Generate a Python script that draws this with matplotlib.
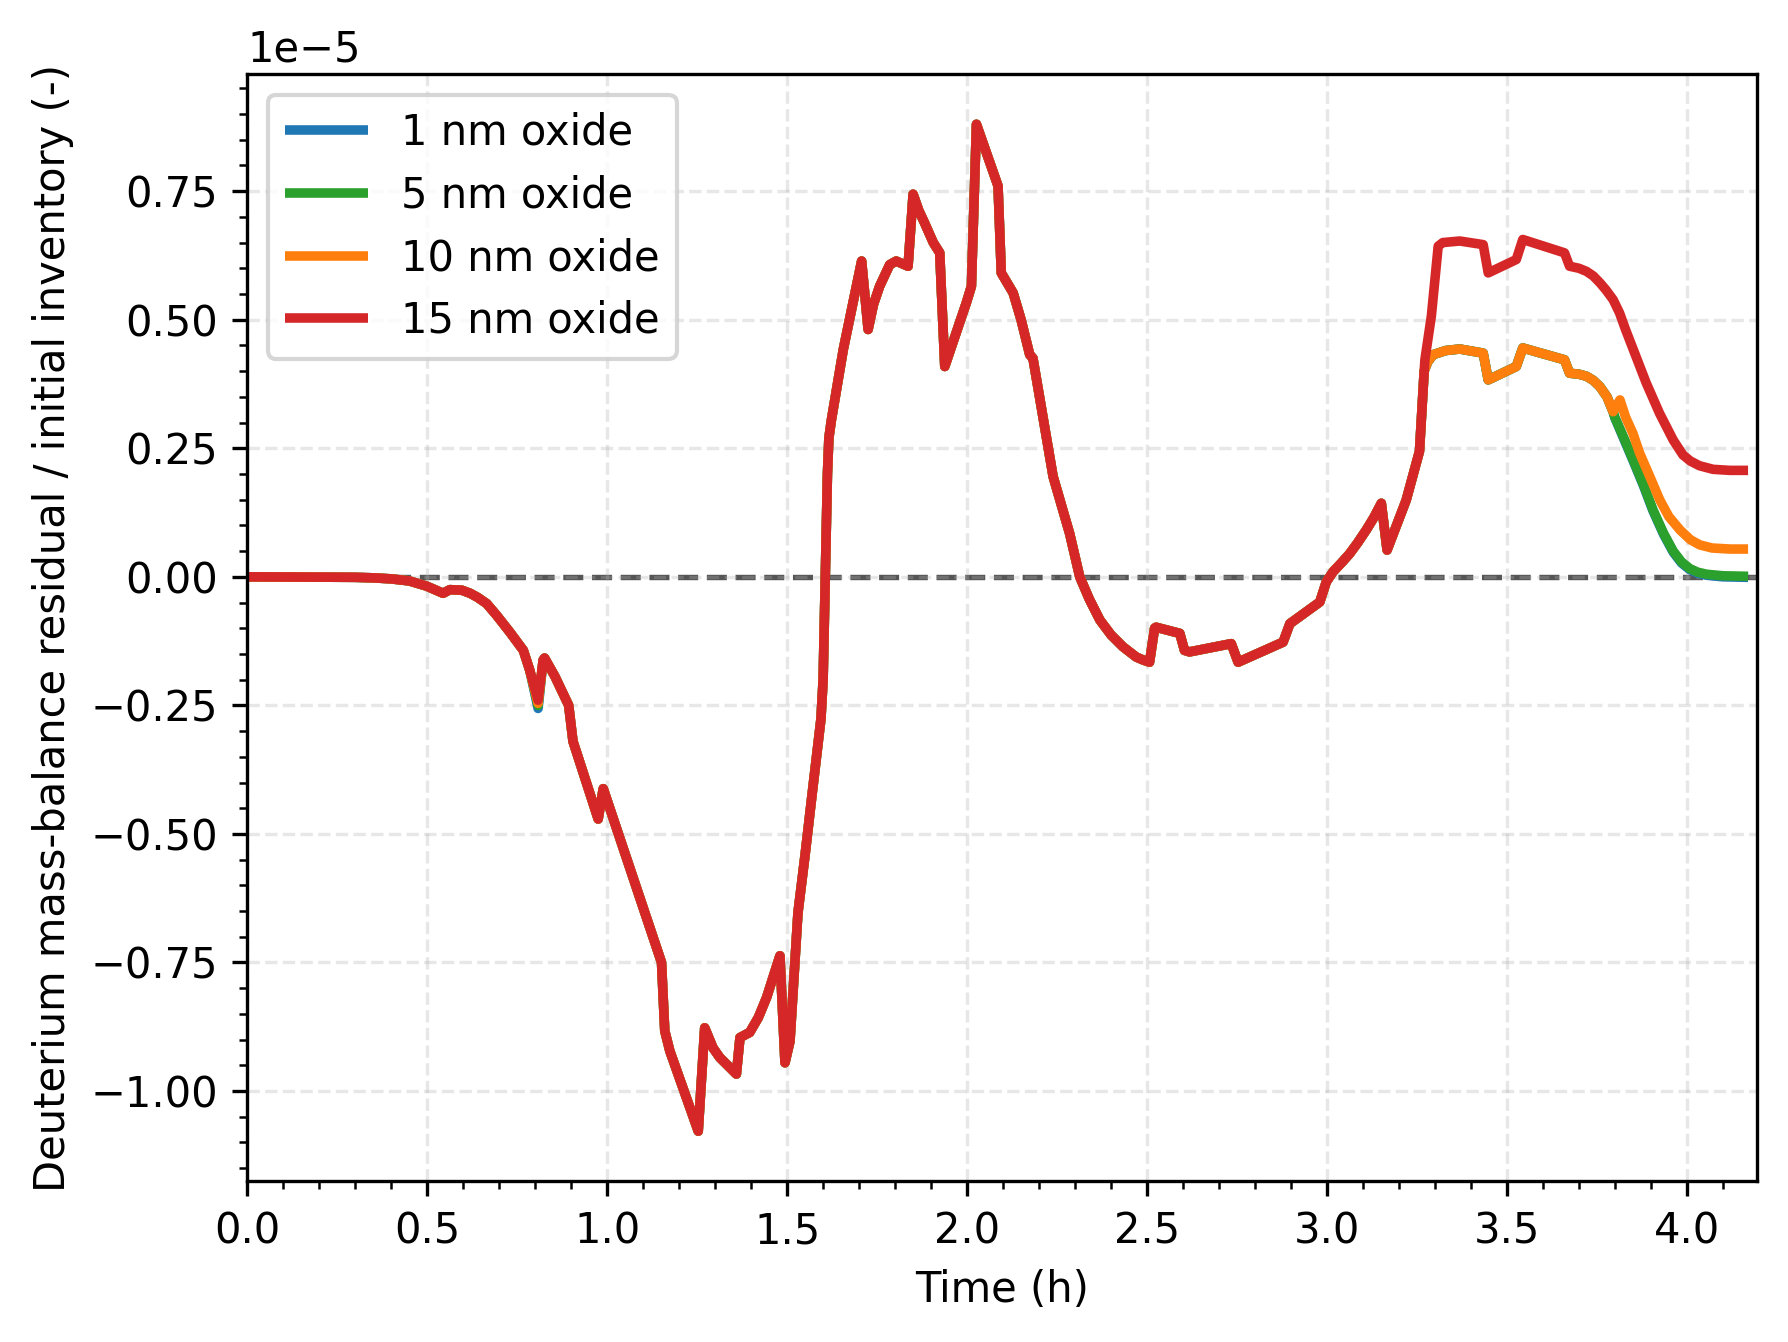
import numpy as np
import matplotlib
matplotlib.use("Agg")
import matplotlib.pyplot as plt

# ---- data (values in units of 1e-5) ----
labels = ["1 nm oxide", "5 nm oxide", "10 nm oxide", "15 nm oxide"]
colors = ["#1f77b4", "#2ca02c", "#ff7f0e", "#d62728"]

# shared part of all curves (time in h)
t_shared = [0.0, 0.30, 0.35, 0.40, 0.45, 0.498, 0.544, 0.563, 0.596, 0.619,
            0.640, 0.665, 0.693, 0.730, 0.767, 0.785, 0.808, 0.822, 0.826, 0.855,
            0.882, 0.893, 0.905, 0.975, 0.989, 1.151, 1.160, 1.174, 1.253, 1.271,
            1.294, 1.313, 1.359, 1.369, 1.396, 1.420, 1.443, 1.480, 1.494, 1.508,
            1.530, 1.550, 1.568, 1.594, 1.600, 1.606, 1.612, 1.616, 1.623, 1.656,
            1.707, 1.725, 1.740, 1.757, 1.785, 1.803, 1.836, 1.850, 1.866, 1.882,
            1.906, 1.924, 1.938, 1.998, 2.012, 2.026, 2.086, 2.095, 2.128, 2.150,
            2.174, 2.183, 2.239, 2.285, 2.313, 2.340, 2.369, 2.400, 2.433, 2.470,
            2.490, 2.507, 2.521, 2.525, 2.591, 2.604, 2.618, 2.734, 2.753, 2.878,
            2.897, 2.980, 2.998, 3.017, 3.040, 3.063, 3.085, 3.109, 3.130, 3.151,
            3.167, 3.220, 3.257]
v_shared = [0.0, -0.001, -0.002, -0.004, -0.008, -0.018, -0.032, -0.025, -0.026, -0.032,
            -0.040, -0.052, -0.075, -0.108, -0.143, -0.182, -0.240, -0.162, -0.158, -0.194,
            -0.234, -0.250, -0.320, -0.471, -0.412, -0.750, -0.883, -0.922, -1.078, -0.877,
            -0.916, -0.935, -0.967, -0.896, -0.886, -0.857, -0.818, -0.737, -0.945, -0.903,
            -0.654, -0.540, -0.431, -0.276, -0.200, 0.0, 0.200, 0.270, 0.305, 0.442,
            0.614, 0.481, 0.530, 0.565, 0.607, 0.614, 0.604, 0.744, 0.712, 0.688,
            0.650, 0.630, 0.409, 0.533, 0.565, 0.880, 0.760, 0.591, 0.552, 0.500,
            0.432, 0.425, 0.195, 0.084, 0.0, -0.044, -0.084, -0.113, -0.136, -0.156,
            -0.162, -0.166, -0.100, -0.098, -0.110, -0.143, -0.146, -0.130, -0.166, -0.127,
            -0.091, -0.049, -0.010, 0.010, 0.027, 0.045, 0.066, 0.091, 0.115, 0.143,
            0.052, 0.149, 0.244]

# small per-series differences at the dip near 0.81 h (1, 5, 10, 15 nm)
dip_0p81 = [-0.256, -0.250, -0.246, -0.240]

# 15 nm tail
t_tail_15 = [3.272, 3.290, 3.309, 3.322, 3.369, 3.434, 3.448, 3.526, 3.544, 3.660,
             3.674, 3.700, 3.721, 3.740, 3.758, 3.775, 3.795, 3.813, 3.830, 3.851,
             3.887, 3.924, 3.962, 3.989, 4.010, 4.035, 4.073, 4.120, 4.170]
v_tail_15 = [0.422, 0.507, 0.643, 0.650, 0.653, 0.646, 0.591, 0.617, 0.656, 0.630,
             0.604, 0.600, 0.594, 0.585, 0.572, 0.558, 0.539, 0.513, 0.480, 0.442,
             0.377, 0.318, 0.266, 0.237, 0.225, 0.216, 0.209, 0.207, 0.207]

# 1/5/10 nm common plateau
t_plateau = [3.270, 3.280, 3.295, 3.330, 3.369, 3.434, 3.448, 3.526, 3.544, 3.660,
             3.674, 3.700, 3.721, 3.740, 3.758, 3.778, 3.795]
v_plateau = [0.400, 0.418, 0.432, 0.440, 0.443, 0.435, 0.383, 0.409, 0.445, 0.422,
             0.396, 0.394, 0.390, 0.382, 0.370, 0.350, 0.321]

# 10 nm end
t_tail_10 = [3.814, 3.830, 3.850, 3.869, 3.900, 3.925, 3.950, 3.981, 4.010, 4.036,
             4.070, 4.120, 4.170]
v_tail_10 = [0.344, 0.310, 0.279, 0.240, 0.190, 0.149, 0.117, 0.091, 0.072, 0.062,
             0.056, 0.054, 0.054]

# 5 nm end
t_tail_5 = [3.800, 3.825, 3.851, 3.880, 3.906, 3.935, 3.962, 3.985, 4.008, 4.030,
            4.055, 4.100, 4.170]
v_tail_5 = [0.310, 0.270, 0.227, 0.178, 0.130, 0.085, 0.050, 0.029, 0.016, 0.009,
            0.005, 0.002, 0.001]

# 1 nm end
t_tail_1 = [3.800, 3.825, 3.851, 3.880, 3.906, 3.935, 3.962, 3.985, 4.008, 4.030,
            4.055, 4.100, 4.170]
v_tail_1 = [0.309, 0.268, 0.225, 0.176, 0.128, 0.083, 0.048, 0.027, 0.014, 0.007,
            0.003, 0.000, -0.001]

# ---- assemble series ----
dip_idx = t_shared.index(0.808)


def shared_for(k):
    v = list(v_shared)
    v[dip_idx] = dip_0p81[k]
    return v


series_t = [
    t_shared + t_plateau + t_tail_1,
    t_shared + t_plateau + t_tail_5,
    t_shared + t_plateau + t_tail_10,
    t_shared + t_tail_15,
]
series_v = [
    shared_for(0) + v_plateau + v_tail_1,
    shared_for(1) + v_plateau + v_tail_5,
    shared_for(2) + v_plateau + v_tail_10,
    shared_for(3) + v_tail_15,
]

# ---- plot ----
fig = plt.figure(figsize=(1788 / 300, 1342 / 300), dpi=300)
ax = fig.add_axes([0.1383, 0.1196, 0.9827 - 0.1383, 0.9449 - 0.1196])

for t, v, lab, c in zip(series_t, series_v, labels, colors):
    ax.plot(t, np.array(v) * 1e-5, color=c, lw=2.3, label=lab,
            solid_joinstyle="round", solid_capstyle="butt")

ax.axhline(0.0, color="#555555", lw=1.3, ls="--", zorder=1)

ax.set_xlim(0, 4.195)
ax.set_xlabel("Time (h)", fontsize=10)
ax.set_ylabel("Deuterium mass-balance residual / initial inventory (-)", fontsize=10)
ax.minorticks_on()
ax.grid(True, which="major", ls="--", alpha=0.3)
ax.legend(loc="upper left", fontsize=10)

fig.savefig("out.png", dpi=300)
